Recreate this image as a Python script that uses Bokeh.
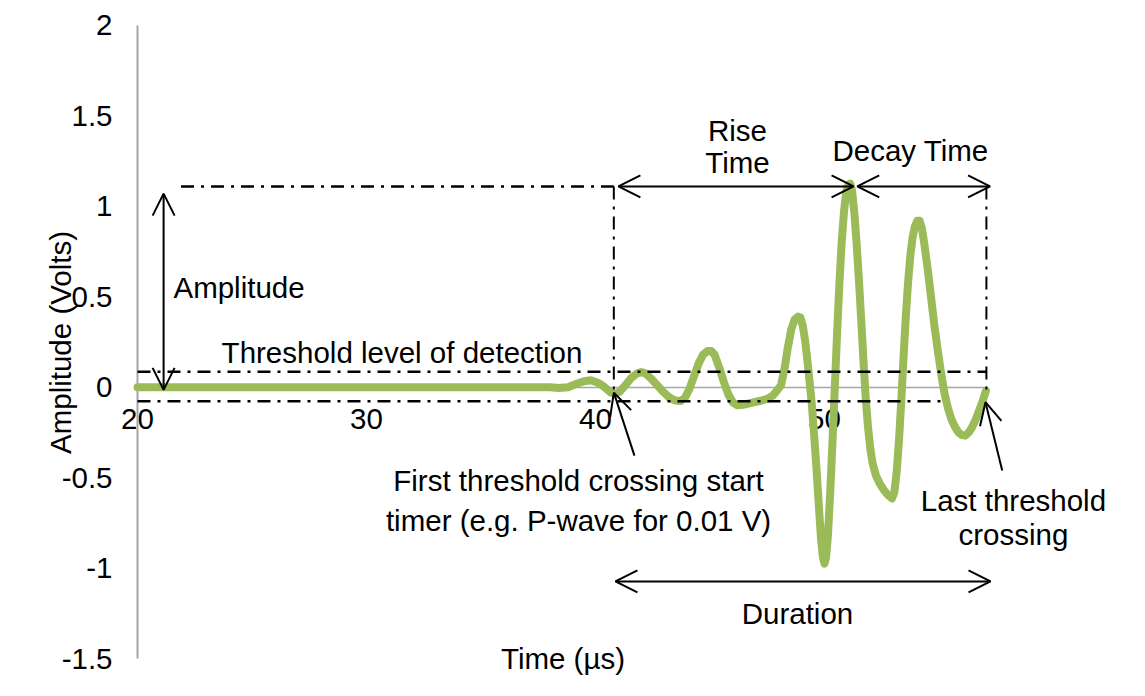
import math
from bokeh.plotting import figure
from bokeh.models import LinearAxis, FixedTicker, Range1d, Arrow, OpenHead
from bokeh.core.properties import value
from bokeh.embed import file_html
from bokeh.resources import INLINE

# ---------------- data ----------------
time_us = [20, 36, 38.0, 38.4, 38.8, 39.2, 39.5, 39.8, 40.1, 40.4, 40.65, 40.85, 41.05,
           41.3, 41.55, 41.8, 42.0, 42.2, 42.45, 42.7, 42.95, 43.2, 43.45, 43.7, 43.9,
           44.1, 44.3, 44.5, 44.7, 44.9, 45.05, 45.2, 45.4, 45.6, 45.8, 46.0, 46.2,
           46.45, 46.8, 47.2, 47.5, 47.75, 47.95, 48.1, 48.25, 48.4, 48.55, 48.7, 48.85,
           48.95, 49.05, 49.15, 49.25, 49.35, 49.45, 49.55, 49.65, 49.75, 49.85, 49.93,
           50.0, 50.07, 50.15, 50.25, 50.35, 50.45, 50.55, 50.65, 50.75, 50.85, 50.95,
           51.05, 51.12, 51.2, 51.3, 51.4, 51.5, 51.6, 51.7, 51.8, 51.9, 52.0, 52.1,
           52.25, 52.4, 52.6, 52.8, 52.95, 53.05, 53.15, 53.25, 53.35, 53.45, 53.55,
           53.65, 53.75, 53.85, 53.95, 54.05, 54.15, 54.25, 54.35, 54.5, 54.65, 54.8,
           54.95, 55.1, 55.25, 55.4, 55.55, 55.7, 55.85, 56.0, 56.15, 56.3, 56.45, 56.6,
           56.75, 56.9, 57.05]
amplitude_v = [0, 0, 0.0, -0.005, 0.0, 0.02, 0.033, 0.038, 0.025, 0.0, -0.028, -0.038, -0.025,
               0.01, 0.05, 0.075, 0.083, 0.075, 0.045, 0.01, -0.025, -0.055, -0.072, -0.077, -0.06,
               -0.01, 0.06, 0.13, 0.18, 0.2, 0.2, 0.18, 0.11, 0.03, -0.04, -0.085, -0.1,
               -0.097, -0.087, -0.075, -0.065, -0.045, -0.015, 0.01, 0.1, 0.22, 0.32, 0.375, 0.39,
               0.385, 0.34, 0.26, 0.15, 0.03, -0.1, -0.27, -0.45, -0.65, -0.84, -0.94,
               -0.975, -0.94, -0.82, -0.58, -0.3, 0.0, 0.3, 0.57, 0.8, 0.97, 1.08,
               1.12, 1.125, 1.09, 0.97, 0.8, 0.6, 0.38, 0.15, -0.06, -0.22, -0.34, -0.42,
               -0.49, -0.53, -0.57, -0.6, -0.615, -0.58, -0.47, -0.3, -0.08, 0.16, 0.39,
               0.58, 0.73, 0.83, 0.89, 0.92, 0.92, 0.88, 0.8, 0.66, 0.5, 0.34,
               0.2, 0.07, -0.04, -0.12, -0.18, -0.22, -0.25, -0.265, -0.268, -0.25, -0.22, -0.18,
               -0.13, -0.08, -0.02]

x_ticks = [20, 30, 40, 50]
x_tick_labels = ["20", "30", "40", "50"]
y_ticks = [-1.5, -1.0, -0.5, 0.0, 0.5, 1.0, 1.5, 2.0]
y_tick_labels = ["-1.5", "-1", "-0.5", "0", "0.5", "1", "1.5", "2"]

# annotation values (µs / V)
threshold_upper = 0.085
threshold_lower = -0.078
first_crossing_t = 40.8
last_crossing_t = 57.07
lower_line_end_t = 55.36
peak_t = 51.27
peak_level = 1.11
amp_marker_t = 21.14
amp_line_start_t = 21.9
duration_level = -1.074

FONT = "Liberation Sans"
FS = "29.5px"
GREEN = "#9bbb59"
AXIS_GREY = "#a6a6a6"
DASHDOT = "13 7 3 7"

p = figure(width=1129, height=680,
           x_range=Range1d(14.0175, 63.3188), y_range=Range1d(-1.6214, 2.1376),
           x_axis_type=None, y_axis_type=None,
           output_backend="svg", toolbar_location=None,
           min_border=0, outline_line_color=None)
p.background_fill_color = "white"
p.border_fill_color = "white"

# axes crossing at (20, 0)
xaxis = LinearAxis(fixed_location=0, bounds=(20, 57.1),
                   ticker=FixedTicker(ticks=x_ticks),
                   major_label_overrides={t: l for t, l in zip(x_ticks, x_tick_labels)})
yaxis = LinearAxis(fixed_location=20, bounds=(-1.5, 2),
                   ticker=FixedTicker(ticks=y_ticks),
                   major_label_overrides={t: l for t, l in zip(y_ticks, y_tick_labels)})
for ax, lw, so in ((xaxis, 1.5, 22), (yaxis, 2, 25)):
    ax.major_tick_in = 0
    ax.major_tick_out = 0
    ax.minor_tick_in = 0
    ax.minor_tick_out = 0
    ax.axis_line_color = AXIS_GREY
    ax.axis_line_width = lw
    ax.major_label_text_font = FONT
    ax.major_label_text_font_size = FS
    ax.major_label_text_color = "black"
    ax.major_label_standoff = so
    ax.level = "underlay"
p.add_layout(xaxis, "below")
p.add_layout(yaxis, "left")

# waveform
p.line(time_us, amplitude_v, line_color=GREEN, line_width=8,
       line_join="round", line_cap="round")

# dash-dot guide lines
h_x0 = [20, 20, amp_line_start_t]
h_x1 = [last_crossing_t, lower_line_end_t, first_crossing_t]
h_y = [threshold_upper, threshold_lower, peak_level]
p.segment(h_x0, h_y, h_x1, h_y, line_color="black", line_width=2.5, line_dash=DASHDOT)
v_x = [first_crossing_t, last_crossing_t]
v_y0 = [peak_level, peak_level]
v_y1 = [-0.04, -0.02]
p.segment(v_x, v_y0, v_x, v_y1, line_color="black", line_width=2, line_dash=DASHDOT)

# arrows
def head():
    return OpenHead(size=22, line_width=2, line_color="black")

double_arrows = [
    (amp_marker_t, -0.015, amp_marker_t, 1.07),              # amplitude
    (41.0, peak_level, peak_t, peak_level),                    # rise time
    (51.43, peak_level, 57.23, peak_level),                    # decay time
    (40.87, duration_level, 57.25, duration_level),            # duration
]
for xs, ys, xe, ye in double_arrows:
    p.add_layout(Arrow(start=head(), end=head(), x_start=xs, y_start=ys,
                       x_end=xe, y_end=ye, line_width=2, line_color="black"))
single_arrows = [
    (41.70, -0.378, first_crossing_t, -0.03),
    (57.76, -0.46, 57.03, -0.083),
]
for xs, ys, xe, ye in single_arrows:
    p.add_layout(Arrow(end=head(), x_start=xs, y_start=ys,
                       x_end=xe, y_end=ye, line_width=2, line_color="black"))

# texts
c_text = ["Threshold level of detection", "Rise", "Time", "Decay Time",
          "First threshold crossing start", "timer (e.g. P-wave for 0.01 V)",
          "Last threshold", "crossing", "Duration", "Time (µs)"]
c_x = [31.55, 46.2, 46.2, 53.76, 39.26, 39.26, 58.25, 58.25, 48.82, 38.58]
c_y = [0.192, 1.419, 1.242, 1.306, -0.516, -0.737, -0.625, -0.815, -1.251, -1.50]
p.text(c_x, c_y, text=c_text, text_font=value(FONT), text_font_size=FS,
       text_align="center", text_baseline="middle", text_color="black")
p.text([21.57], [0.553], text=["Amplitude"], text_font=value(FONT), text_font_size=FS,
       text_align="left", text_baseline="middle", text_color="black")
p.text([16.64], [0.247], text=["Amplitude (Volts)"], angle=math.pi / 2,
       text_font=value(FONT), text_font_size=FS,
       text_align="center", text_baseline="middle", text_color="black")

open("out.html", "w").write(file_html(p, INLINE))
